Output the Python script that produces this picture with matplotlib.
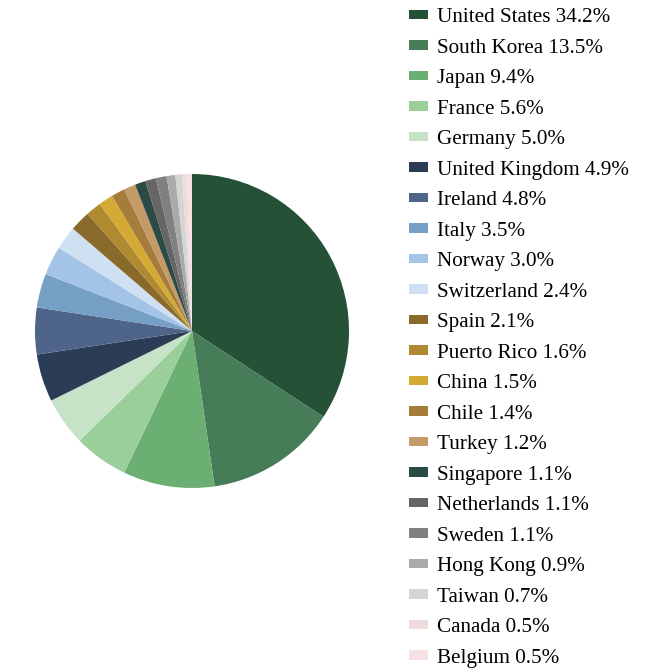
import matplotlib
matplotlib.use("Agg")
import matplotlib.pyplot as plt
from matplotlib.patches import Patch

countries = ["United States", "South Korea", "Japan", "France", "Germany",
             "United Kingdom", "Ireland", "Italy", "Norway", "Switzerland",
             "Spain", "Puerto Rico", "China", "Chile", "Turkey", "Singapore",
             "Netherlands", "Sweden", "Hong Kong", "Taiwan", "Canada", "Belgium"]
shares = [34.2, 13.5, 9.4, 5.6, 5.0, 4.9, 4.8, 3.5, 3.0, 2.4, 2.1, 1.6, 1.5,
          1.4, 1.2, 1.1, 1.1, 1.1, 0.9, 0.7, 0.5, 0.5]
colors = ["#255236", "#477c58", "#6baf73", "#9acf9a", "#c6e3c8",
          "#2b3d56", "#4e6589", "#769fc6", "#a3c4e6", "#cfe0f2",
          "#8a6a2a", "#b08a30", "#d4aa35", "#a67c3a", "#c49a68",
          "#2c4a46", "#666666", "#808080", "#aaaaaa", "#d4d4d4",
          "#eedcdc", "#f6e0e2"]

plt.rcParams['font.family'] = ['Liberation Serif', 'DejaVu Serif']

fig = plt.figure(figsize=(6.72, 6.72), dpi=100)
W = H = 672.0
cx, cy, r = 192, 331, 157
ax = fig.add_axes([(cx - r) / W, 1 - (cy + r) / H, 2 * r / W, 2 * r / H])
ax.pie(shares, colors=colors, startangle=90, counterclock=False,
       wedgeprops=dict(linewidth=0))
ax.set_xlim(-1, 1)
ax.set_ylim(-1, 1)
ax.set_aspect('equal')
ax.axis('off')

handles = [Patch(facecolor=c, edgecolor='none') for c in colors]
labels = [f"{n} {v:.1f}%" for n, v in zip(countries, shares)]
fig.legend(handles, labels, loc='upper left',
           bbox_to_anchor=(409 / W, 1 - 8 / H), frameon=False,
           fontsize=15.2, handlelength=0.9, handleheight=0.33,
           handletextpad=0.43, labelspacing=0.545, borderaxespad=0,
           borderpad=0)

fig.savefig("out.png", dpi=100)
